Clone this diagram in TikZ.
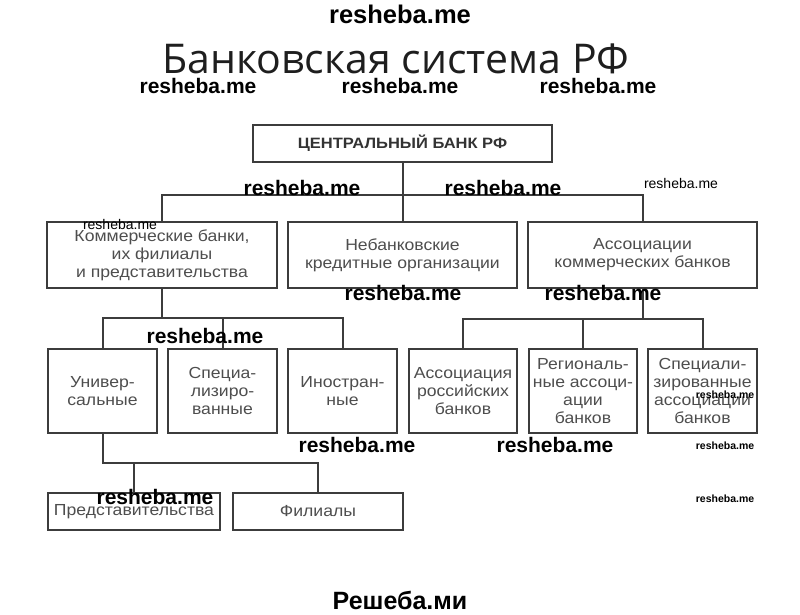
\documentclass[tikz,border=0pt]{standalone}
\usepackage{fontspec}
\setmainfont[FakeStretch=1.1]{Liberation Sans}
\newfontfamily\titlefont{Open Sans}
\newfontfamily\wmfont{Liberation Sans}
\definecolor{boxline}{HTML}{3C3C3C}
\definecolor{boxtext}{HTML}{4E4E4E}
\definecolor{titlecol}{HTML}{1E1E1E}
\tikzset{
  box/.style={draw=boxline, line width=2pt, text=boxtext, align=center, inner sep=0pt,
     font=\fontsize{16}{18}\selectfont},
  conn/.style={draw=boxline, line width=2pt},
  wm/.style={font=\wmfont\bfseries\fontsize{21}{21}\selectfont, text=black, inner sep=0pt},
  wmbig/.style={font=\wmfont\bfseries\fontsize{25.5}{25.5}\selectfont, text=black, inner sep=0pt},
  wmsmall/.style={font=\wmfont\fontsize{14}{14}\selectfont, text=black, inner sep=0pt},
  wmtiny/.style={font=\wmfont\bfseries\fontsize{10.5}{10.5}\selectfont, text=black, inner sep=0pt},
}
\begin{document}
\begin{tikzpicture}[x=1pt,y=-1pt]
\useasboundingbox[fill=white] (0,0) rectangle (800,615);
% title
\node[font=\titlefont\fontsize{41}{41}\selectfont, text=titlecol, inner sep=0pt] (title) at (396,59) {Банковская система РФ};
% boxes
\node[box, minimum width=299pt, minimum height=37pt, text=black!80, font=\bfseries\fontsize{15}{18}\selectfont] (cb) at (402.5,143.5) {ЦЕНТРАЛЬНЫЙ БАНК РФ};
\node[box, minimum width=230pt, minimum height=66pt] (kb) at (162,255) {Коммерческие банки,\\их филиалы\\и представительства};
\node[box, minimum width=229pt, minimum height=66pt] (nb) at (402.5,255) {Небанковские\\кредитные организации};
\node[box, minimum width=229pt, minimum height=66pt] (ak) at (642.5,255) {Ассоциации\\коммерческих банков};
\node[box, minimum width=109pt, minimum height=84pt] (un) at (102.5,391) {Универ-\\сальные};
\node[box, minimum width=109pt, minimum height=84pt] (sp) at (222.5,391) {Специа-\\лизиро-\\ванные};
\node[box, minimum width=109pt, minimum height=84pt] (in) at (342.5,391) {Иностран-\\ные};
\node[box, minimum width=108pt, minimum height=84pt] (ar) at (463,391) {Ассоциация\\российских\\банков};
\node[box, minimum width=108pt, minimum height=84pt] (rg) at (583,391) {Региональ-\\ные ассоци-\\ации\\банков};
\node[box, minimum width=109pt, minimum height=84pt] (sa) at (702.5,391) {Специали-\\зированные\\ассоциации\\банков};
\node[box, minimum width=172pt, minimum height=37pt] (pr) at (134,511.5) {Представительства};
\node[box, minimum width=170pt, minimum height=37pt] (fi) at (318,511.5) {Филиалы};
% junctions
\coordinate (j1) at (402.5,195);
\coordinate (j2) at (162,318);
\coordinate (j3) at (642.5,319);
\coordinate (j4) at (102.5,463);
% connectors
\draw[conn] (cb) -- (nb);
\draw[conn] (kb.north) |- (j1) -| (ak.north);
\draw[conn] (kb.south) -- (j2);
\draw[conn] (un.north) |- (j2) -| (in.north);
\draw[conn] (sp.north) -- (sp.north |- j2);
\draw[conn] (ak.south) -- (j3);
\draw[conn] (ar.north) |- (j3) -| (sa.north);
\draw[conn] (rg.north) -- (rg.north |- j3);
\draw[conn] (un.south) -- (j4) -| (fi.north);
\draw[conn] (pr.north) -- (pr.north |- j4);
% watermarks
\node[wmbig] (w0) at (400,14) {resheba.me};
\node[wm] (w1) at (198,86) {resheba.me};
\node[wm] (w2) at (400,86) {resheba.me};
\node[wm] (w3) at (598,86) {resheba.me};
\node[wm] (w4) at (302,188) {resheba.me};
\node[wm] (w5) at (503,188) {resheba.me};
\node[wmsmall] (w6) at (681,183) {resheba.me};
\node[wmsmall] (w7) at (120,224) {resheba.me};
\node[wm] (w8) at (403,293) {resheba.me};
\node[wm] (w9) at (603,293) {resheba.me};
\node[wm] (w10) at (205,336) {resheba.me};
\node[wmtiny] (w11) at (725,395) {resheba.me};
\node[wm] (w12) at (357,445) {resheba.me};
\node[wm] (w13) at (555,445) {resheba.me};
\node[wmtiny] (w14) at (725,446) {resheba.me};
\node[wm] (w15) at (155,497) {resheba.me};
\node[wmtiny] (w16) at (725,499) {resheba.me};
\node[font=\wmfont\bfseries\fontsize{25}{25}\selectfont, inner sep=0pt] (w17) at (400,600) {Решеба.ми};
\end{tikzpicture}
\end{document}
